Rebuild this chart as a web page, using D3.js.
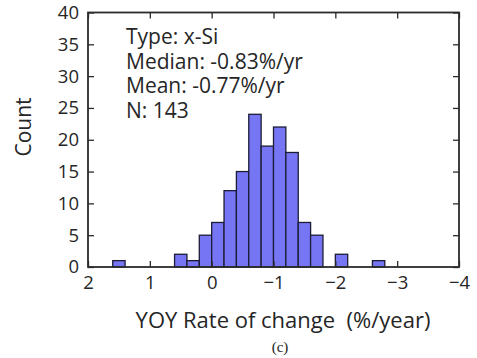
<!DOCTYPE html>
<html>
<head>
<meta charset="utf-8">
<script src="https://cdn.jsdelivr.net/npm/d3@7"></script>
<style>
  html, body { margin: 0; padding: 0; background: #fff; }
  svg { display: block; }
</style>
</head>
<body>
<svg id="chart" width="477" height="358"></svg>
<script>
// Histogram bins: upper edge of each bin (%/yr), bin width 0.2, and counts
const binUpper = [1.6, 0.6, 0.4, 0.2, 0.0, -0.2, -0.4, -0.6, -0.8, -1.0, -1.2, -1.4, -1.6, -2.0, -2.6];
const binCounts = [1, 2, 1, 5, 7, 12, 15, 24, 19, 22, 18, 7, 5, 2, 1];
const binWidth = 0.2;

const xTicks = [2, 1, 0, -1, -2, -3, -4];
const yTicks = [0, 5, 10, 15, 20, 25, 30, 35, 40];

const statLines = ["Type: x-Si", "Median: -0.83%/yr", "Mean: -0.77%/yr", "N: 143"];

const svg = d3.select("#chart");
const plotLeft = 88, plotRight = 459, plotTop = 12.5, plotBottom = 267;

const x = d3.scaleLinear().domain([2, -4]).range([plotLeft, plotRight]);
const y = d3.scaleLinear().domain([0, 40]).range([plotBottom, plotTop]);

const axisColor = "#2b2b2b";
const textColor = "#262626";
const font = "'Open Sans', sans-serif";

// bars
svg.append("g").selectAll("rect")
  .data(binUpper.map((u, i) => ({ u, c: binCounts[i] })))
  .join("rect")
  .attr("x", d => x(d.u))
  .attr("width", d => x(d.u - binWidth) - x(d.u))
  .attr("y", d => y(d.c))
  .attr("height", d => y(0) - y(d.c))
  .attr("fill", "#7676f4")
  .attr("stroke", "#1c1c36")
  .attr("stroke-width", 1.3);

// inward ticks on all four sides
const tickLen = 6;
const tickOpts = g => g.call(s => s.select(".domain").remove())
  .call(s => s.selectAll("line").attr("stroke", axisColor).attr("stroke-width", 1.3));

const fmt = v => v < 0 ? "\u2212" + Math.abs(v) : String(v);

const xAxisB = svg.append("g").attr("transform", `translate(0,${plotBottom})`)
  .call(d3.axisBottom(x).tickValues(xTicks).tickSize(-tickLen).tickPadding(9).tickFormat(fmt));
xAxisB.call(tickOpts);
xAxisB.selectAll("text").attr("font-family", font).attr("font-size", 18.5).attr("fill", textColor);

svg.append("g").attr("transform", `translate(0,${plotTop})`)
  .call(d3.axisTop(x).tickValues(xTicks).tickSize(-tickLen).tickFormat(""))
  .call(tickOpts);

const yAxisL = svg.append("g").attr("transform", `translate(${plotLeft},0)`)
  .call(d3.axisLeft(y).tickValues(yTicks).tickSize(-tickLen).tickPadding(9));
yAxisL.call(tickOpts);
yAxisL.selectAll("text").attr("font-family", font).attr("font-size", 18.5).attr("fill", textColor);

svg.append("g").attr("transform", `translate(${plotRight},0)`)
  .call(d3.axisRight(y).tickValues(yTicks).tickSize(-tickLen).tickFormat(""))
  .call(tickOpts);

// frame
svg.append("rect")
  .attr("x", plotLeft).attr("y", plotTop)
  .attr("width", plotRight - plotLeft).attr("height", plotBottom - plotTop)
  .attr("fill", "none").attr("stroke", axisColor).attr("stroke-width", 1.8);

// statistics text block (one text element, one line per tspan)
svg.append("text")
  .attr("x", 126)
  .attr("y", 44)
  .attr("font-family", font)
  .attr("font-size", 21)
  .attr("fill", textColor)
  .selectAll("tspan")
  .data(statLines)
  .join("tspan")
  .attr("x", 126)
  .attr("dy", (d, i) => i === 0 ? 0 : 24.5)
  .text(d => d);

// axis titles
svg.append("text")
  .attr("transform", `translate(31,127) rotate(-90)`)
  .attr("text-anchor", "middle")
  .attr("font-family", font)
  .attr("font-size", 21)
  .attr("fill", textColor)
  .text("Count");

svg.append("text")
  .attr("x", 283)
  .attr("y", 328)
  .attr("text-anchor", "middle")
  .attr("font-family", font)
  .attr("font-size", 22)
  .attr("fill", textColor)
  .style("white-space", "pre")
  .text("YOY Rate of change  (%/year)");

svg.append("text")
  .attr("x", 280)
  .attr("y", 352)
  .attr("text-anchor", "middle")
  .attr("font-family", "'Liberation Serif', serif")
  .attr("font-size", 15)
  .attr("fill", "#222")
  .text("(c)");
</script>
</body>
</html>
